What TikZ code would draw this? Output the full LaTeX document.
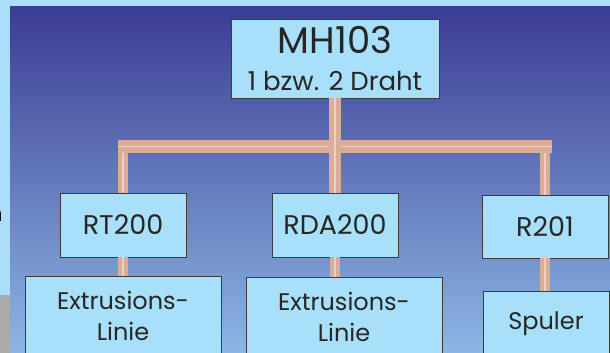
\documentclass[tikz,border=0pt]{standalone}
\usepackage{fontspec}
\setmainfont{Poppins}
\definecolor{frameblue}{RGB}{170,222,250}
\definecolor{boxblue}{RGB}{168,224,250}
\definecolor{bgtop}{RGB}{60,60,148}
\definecolor{bgmid}{RGB}{98,118,190}
\definecolor{bgbot}{RGB}{140,182,228}
\definecolor{pipeedge}{RGB}{216,174,154}
\definecolor{pipelight}{RGB}{236,208,194}
\definecolor{inkgray}{RGB}{38,38,38}
\tikzset{
  box/.style={draw=inkgray!90, line width=0.9pt, fill=boxblue, text=inkgray,
    inner sep=0pt, align=center},
  pipe/.style={draw=pipeedge, line width=4.2pt, double=pipelight,
    double distance=1.6pt},
  bus/.style={draw=pipeedge, line width=5.6pt, double=pipelight,
    double distance=1.8pt}
}
\begin{document}
\begin{tikzpicture}[x=1pt,y=-1pt]
    \useasboundingbox (0,0) rectangle (610,353);
    % background
    \fill[frameblue] (0,0) rectangle (610,353);
    \shade[top color=bgtop, middle color=bgmid, bottom color=bgbot] (10,7) rectangle (610,353);
    \fill[black!33] (0,295) rectangle (10,353);
    \path (3,215) node[anchor=east, inner sep=0pt, font=\fontsize{22}{22}\selectfont] (cut) {n};

    % boxes
    \path (335,58.5) node[box, minimum width=208pt, minimum height=79pt,
      font=\fontsize{26}{37}\selectfont] (mh)
      {{\fontsize{37}{37}\selectfont MH103}\\1 bzw. 2 Draht};
    \path (123,225) node[box, minimum width=126pt, minimum height=64pt,
      font=\fontsize{27}{27}\selectfont] (rt) {RT200};
    \path (335,225) node[box, minimum width=126pt, minimum height=64pt,
      font=\fontsize{27}{27}\selectfont] (rda) {RDA200};
    \path (545,226.5) node[box, minimum width=126pt, minimum height=63pt,
      font=\fontsize{27}{27}\selectfont] (r201) {R201};

    \path (123,316) node[box, minimum width=196pt, minimum height=80pt,
      font=\fontsize{24}{31}\selectfont] (ext1) {Extrusions-\\Linie};
    \path (344,316.5) node[box, minimum width=196pt, minimum height=79pt,
      font=\fontsize{24}{31}\selectfont] (ext2) {Extrusions-\\Linie};
    \path (546,323.5) node[box, minimum width=126pt, minimum height=65pt,
      font=\fontsize{24}{24}\selectfont] (spul) {Spuler};

    % connectors
    \coordinate (busL) at (118,146.5);
    \coordinate (busR) at (552,146.5);
    \draw[pipe] (rt.north) -- (rt.north |- busL);
    \draw[pipe] (r201.north) -- (r201.north |- busR);
    \draw[bus] (busL) -- (busR);
    \draw[pipe, line width=5pt] (mh.south) -- (rda.north);

    \draw[pipe] (rt.south) -- (ext1.north);
    \draw[pipe] (rda.south) -- (rda.south |- ext2.north);
    \draw[pipe] (r201.south) -- (r201.south |- spul.north);
\end{tikzpicture}
\end{document}
